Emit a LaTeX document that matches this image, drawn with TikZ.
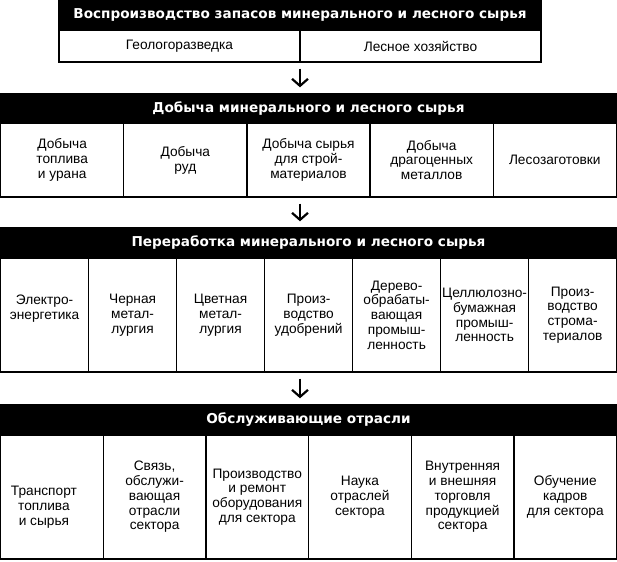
\documentclass[tikz,border=0pt]{standalone}
\usepackage{fontspec}
\setmainfont{Liberation Sans}
\newfontfamily\hdfont{DejaVu Sans}
\usetikzlibrary{arrows.meta}
\begin{document}
\begin{tikzpicture}[x=1pt,y=-1pt,
  hdr/.style={draw=black, fill=black, text=white, line width=1.4pt,
    font=\hdfont\bfseries\fontsize{13.6}{16}\selectfont,
    minimum height=30pt, inner sep=0pt},
  cell/.style={draw=black, line width=1.4pt, align=center, inner sep=0pt,
    font=\fontsize{13.7}{14.8}\selectfont},
  cA/.style={cell, minimum width=241pt, minimum height=32pt},
  cB/.style={cell, minimum width=123.16pt, minimum height=74pt},
  cC/.style={cell, minimum width=88pt, minimum height=114pt},
  cD/.style={cell, minimum width=102.667pt, minimum height=124pt},
  arr/.style={line width=2.2pt, shorten <=6pt, shorten >=6pt,
    -{Straight Barb[length=7pt,width=16pt]}}]
\useasboundingbox (0,0) rectangle (617,561);

% Section 1
\node[hdr, minimum width=482pt] (h1) at (300,15) {Воспроизводство запасов минерального и лесного сырья};
\node[cA] (a1) at (179.5,46) {Геологоразведка};
\node[cA] (a2) at (420.5,46) {Лесное хозяйство};

% Section 2
\node[hdr, minimum width=616pt, minimum height=29pt] (h2) at (308.5,108.5) {Добыча минерального и лесного сырья};
\node[cB] (b1) at (62.18,160) {Добыча\\топлива\\и урана};
\node[cB] (b2) at (185.34,160) {Добыча\\руд};
\node[cB] (b3) at (308.5,160) {Добыча сырья\\для строй-\\материалов};
\node[cB] (b4) at (431.66,160) {Добыча\\драгоценных\\металлов};
\node[cB] (b5) at (554.82,160) {Лесозаготовки};

% Section 3
\node[hdr, minimum width=616pt] (h3) at (308.5,243) {Переработка минерального и лесного сырья};
\node[cC] (c1) at (44.6,315) {Электро-\\энергетика\\~};
\node[cC] (c2) at (132.6,315) {Черная\\метал-\\лургия};
\node[cC] (c3) at (220.6,315) {Цветная\\метал-\\лургия};
\node[cC] (c4) at (308.6,315) {Произ-\\водство\\удобрений};
\node[cC] (c5) at (396.6,315) {Дерево-\\обрабаты-\\вающая\\промыш-\\ленность};
\node[cC] (c6) at (484.6,315) {Целлюлозно-\\бумажная\\промыш-\\ленность};
\node[cC] (c7) at (572.6,315) {Произ-\\водство\\строма-\\териалов};

% Section 4
\node[hdr, minimum width=616pt] (h4) at (308.5,420) {Обслуживающие отрасли};
\node[cD] (d1) at (51.93,497) {~\\~\\Транспорт\rule{16pt}{0pt}\\топлива\rule{16pt}{0pt}\\и сырья\rule{16pt}{0pt}};
\node[cD] (d2) at (154.6,497) {Связь,\\обслужи-\\вающая\\отрасли\\сектора};
\node[cD] (d3) at (257.27,497) {Производство\\и ремонт\\оборудования\\для сектора};
\node[cD] (d4) at (359.93,497) {Наука\\отраслей\\сектора};
\node[cD] (d5) at (462.6,497) {Внутренняя\\и внешняя\\торговля\\продукцией\\сектора};
\node[cD] (d6) at (565.27,497) {Обучение\\кадров\\для сектора};

% Arrows
\draw[arr] (h1.center |- a1.south) -- (h1.center |- h2.north);
\draw[arr] (h1.center |- b3.south) -- (h1.center |- h3.north);
\draw[arr] (h1.center |- c4.south) -- (h1.center |- h4.north);
\end{tikzpicture}
\end{document}
